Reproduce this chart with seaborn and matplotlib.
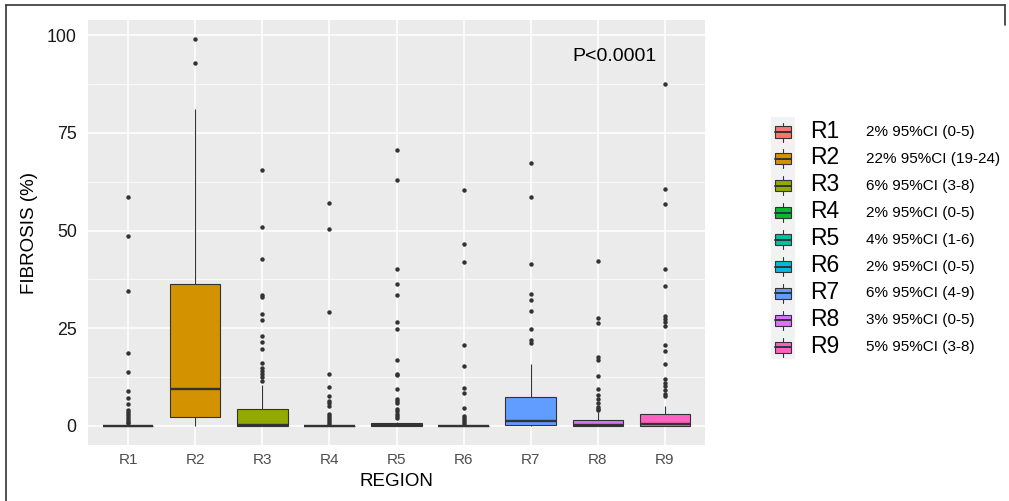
import numpy as np
import pandas as pd
import matplotlib
matplotlib.use("Agg")
import matplotlib.pyplot as plt
from matplotlib.lines import Line2D
from matplotlib.patches import Rectangle
from matplotlib.ticker import FixedLocator
import seaborn as sns

# ---------------- data ----------------
regions = ["R1", "R2", "R3", "R4", "R5", "R6", "R7", "R8", "R9"]
colors = ["#F8766D", "#D39200", "#93AA00", "#00BA38", "#00C19F",
          "#00B9E3", "#619CFF", "#DB72FB", "#FF61C3"]
q1 = [0, 2.1, 0, 0, 0, 0, 0.2, 0, 0]
median = [0, 9.5, 0.1, 0, 0.1, 0, 1.1, 0.1, 0.4]
q3 = [0, 36.3, 4.3, 0, 0.7, 0, 7.4, 1.5, 3.0]
whisker_low = [0, 0, 0, 0, 0, 0, 0, 0, 0]
whisker_high = [0, 81.2, 10.5, 0, 1.0, 0, 15.8, 3.5, 5.1]
outliers = [
    [58.5, 48.7, 34.5, 18.6, 13.7, 9.0, 7.2, 5.6, 4.0, 3.5, 3.0, 2.5, 2.0, 1.5, 1.0, 0.6],
    [99.0, 93.0],
    [65.5, 50.8, 42.8, 33.6, 33.0, 28.5, 27.0, 22.9, 21.4, 19.7, 16.1, 14.7, 14.0, 13.3, 12.6, 11.5],
    [57.0, 50.5, 29.1, 13.2, 9.9, 7.6, 6.3, 5.7, 5.1, 3.0, 2.5, 2.0, 1.5, 1.0, 0.5],
    [70.6, 62.9, 40.1, 36.3, 33.6, 26.6, 24.9, 16.8, 13.3, 13.0, 9.5, 6.9, 6.4, 5.9, 4.2, 3.7, 3.0, 2.4, 1.9],
    [60.3, 46.6, 42.0, 20.8, 15.2, 9.6, 8.3, 4.5, 2.4, 1.9, 1.4, 0.9, 0.5],
    [67.2, 58.5, 41.4, 33.7, 32.2, 29.5, 24.8, 21.9, 21.2],
    [42.1, 27.7, 26.2, 17.6, 16.8, 12.8, 9.4, 7.8, 6.9, 5.9, 4.9, 4.4, 4.0],
    [87.5, 60.7, 56.9, 40.2, 35.9, 28.1, 27.3, 26.5, 25.6, 20.7, 19.2, 15.8, 11.9, 11.0, 10.1, 9.1, 8.2, 7.6],
]
ci_labels = ["2% 95%CI (0-5)", "22% 95%CI (19-24)", "6% 95%CI (3-8)",
             "2% 95%CI (0-5)", "4% 95%CI (1-6)", "2% 95%CI (0-5)",
             "6% 95%CI (4-9)", "3% 95%CI (0-5)", "5% 95%CI (3-8)"]
y_ticks = [0, 25, 50, 75, 100]
y_minor = [12.5, 37.5, 62.5, 87.5]
p_text = "P<0.0001"

# build a sample per region that reproduces the read box statistics
rows = []
for i, r in enumerate(regions):
    vals = ([whisker_low[i]] + [q1[i]] * 40 + [median[i]] * 40 +
            [q3[i]] * 40 + [whisker_high[i]] + outliers[i])
    rows += [(r, v) for v in vals]
df = pd.DataFrame(rows, columns=["REGION", "FIBROSIS"])

# ---------------- style ----------------
sns.set_theme(style="darkgrid", rc={
    "axes.facecolor": "#EBEBEB",
    "grid.color": "white",
    "grid.linewidth": 1.1,
    "xtick.major.size": 2.75,
    "ytick.major.size": 2.75,
    "xtick.major.width": 0.8,
    "ytick.major.width": 0.8,
    "xtick.color": "#333333",
    "ytick.color": "#333333",
})
plt.rcParams["font.family"] = ["Liberation Sans", "DejaVu Sans"]

W, H = 1009, 501
fig = plt.figure(figsize=(W / 100, H / 100), dpi=100)
fig.patch.set_facecolor("white")
ax = fig.add_axes([88 / W, 1 - 445 / H, (705 - 88) / W, (445 - 20) / H])

sns.boxplot(data=df, x="REGION", y="FIBROSIS", hue="REGION", order=regions,
            hue_order=regions, palette=colors, saturation=1, width=0.75,
            linecolor="#333333", linewidth=0.8, legend=False, ax=ax,
            showcaps=False,
            medianprops=dict(linewidth=1.7, color="#333333"),
            flierprops=dict(marker="o", markersize=3.2, markerfacecolor="#333333",
                            markeredgecolor="#333333", markeredgewidth=0))

ymin, ymax = df["FIBROSIS"].min(), df["FIBROSIS"].max()
pad = 0.05 * (ymax - ymin)
ax.set_ylim(ymin - pad, ymax + pad)
ax.set_xlim(-0.6, len(regions) - 0.4)
ax.set_yticks(y_ticks)
ax.yaxis.set_minor_locator(FixedLocator(y_minor))
ax.grid(which="major", color="white", linewidth=1.1)
ax.grid(which="minor", axis="y", color="white", linewidth=0.55)
ax.tick_params(which="minor", length=0)
ax.set_axisbelow(True)
for s in ax.spines.values():
    s.set_visible(False)

ax.tick_params(axis="y", labelsize=12.8, labelcolor="#1a1a1a", pad=5.4)
ax.tick_params(axis="x", labelsize=11, labelcolor="#4D4D4D", pad=3)
ax.set_xlabel("REGION", fontsize=13.5, color="black", labelpad=4)
ax.set_ylabel("FIBROSIS (%)", fontsize=13.5, color="black", labelpad=6)

ax.text(7.25, 94.6, p_text, ha="center", va="center", fontsize=14, color="black")

# ---------------- legend ----------------
def fx(x):
    return x / W

def fy(y):
    return 1 - y / H

fig.add_artist(Rectangle((fx(771), fy(359)), fx(795) - fx(771), fy(117) - fy(359),
                         transform=fig.transFigure, facecolor="#F2F2F2",
                         edgecolor="none", zorder=1))
for i, r in enumerate(regions):
    yc = 132 + 26.9 * i
    fig.add_artist(Line2D([fx(783), fx(783)], [fy(yc + 9.5), fy(yc - 9.5)],
                          transform=fig.transFigure, color="#333333", lw=0.8, zorder=2))
    fig.add_artist(Rectangle((fx(775), fy(yc + 5.5)), fx(791) - fx(775), fy(yc - 5.5) - fy(yc + 5.5),
                             transform=fig.transFigure, facecolor=colors[i],
                             edgecolor="#333333", lw=0.8, zorder=3))
    fig.add_artist(Line2D([fx(775), fx(791)], [fy(yc), fy(yc)],
                          transform=fig.transFigure, color="#333333", lw=1.4, zorder=4))
    fig.text(fx(810), fy(yc - 1), r, ha="left", va="center", fontsize=16.5, color="black")
    fig.text(fx(866), fy(yc), ci_labels[i], ha="left", va="center", fontsize=11, color="black")

# frame of the screenshot
fig.add_artist(Line2D([fx(6), fx(1005)], [fy(5), fy(5)], transform=fig.transFigure,
                      color="#333333", lw=1.2))
fig.add_artist(Line2D([fx(6), fx(6)], [fy(5), 0], transform=fig.transFigure,
                      color="#333333", lw=1.2))
fig.add_artist(Line2D([fx(1005), fx(1005)], [fy(5), fy(25)], transform=fig.transFigure,
                      color="#333333", lw=1.2))

fig.savefig("out.png", dpi=100, facecolor="white")
